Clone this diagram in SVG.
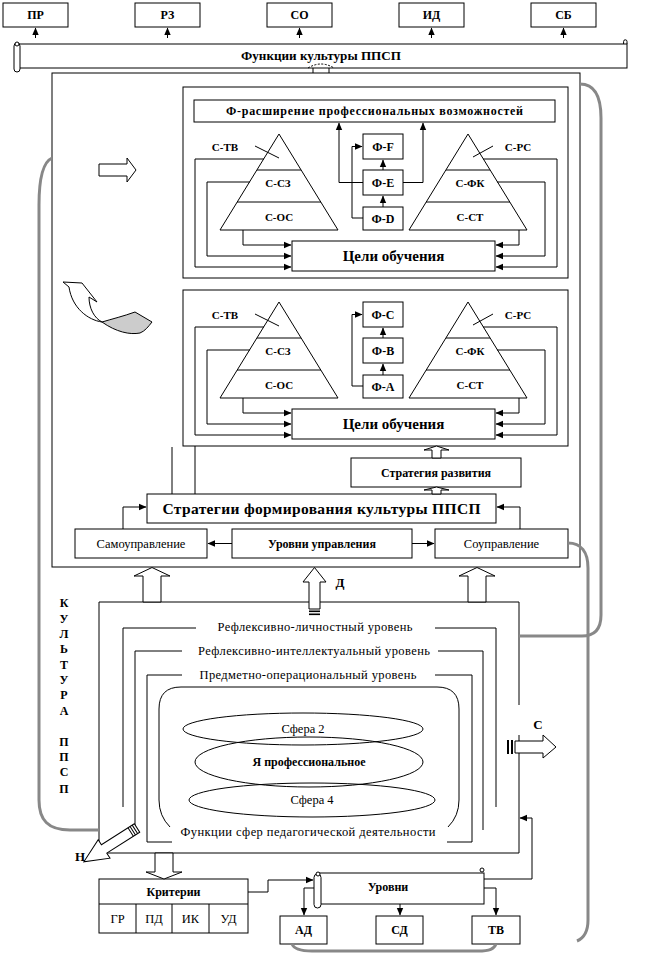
<svg xmlns="http://www.w3.org/2000/svg" width="645" height="953" viewBox="0 0 645 953">
<defs>
<marker id="ah" markerWidth="8" markerHeight="8" refX="7" refY="4" orient="auto" markerUnits="userSpaceOnUse"><path d="M0,0.8 L7.5,4 L0,7.2 z" fill="#000"/></marker>
</defs>
<style>
.b{fill:#fff;stroke:#000;stroke-width:1}
.l{fill:none;stroke:#000;stroke-width:1}
.a{fill:none;stroke:#000;stroke-width:1;marker-end:url(#ah)}
.g{fill:none;stroke:#888;stroke-width:3}
text{font-family:"Liberation Serif","Times New Roman",serif;fill:#000;text-anchor:middle;dominant-baseline:central}
.tb{font-weight:bold;font-size:12px}
.tr{font-size:12.5px}
.ts{font-weight:bold;font-size:11px}
.tl{font-weight:bold;font-size:15px}
</style>
<rect x="0" y="0" width="645" height="953" fill="#fff"/>

<g id="top-boxes">
<g id="n-pr"><rect class="b" x="3" y="3" width="65" height="24"/><text class="tb" x="35.5" y="15">ПР</text></g>
<g id="n-rz"><rect class="b" x="135" y="3" width="65" height="24"/><text class="tb" x="167.5" y="15">РЗ</text></g>
<g id="n-so"><rect class="b" x="267" y="3" width="65" height="24"/><text class="tb" x="299.5" y="15">СО</text></g>
<g id="n-id"><rect class="b" x="399" y="3" width="65" height="24"/><text class="tb" x="431.5" y="15">ИД</text></g>
<g id="n-sb"><rect class="b" x="531" y="3" width="65" height="24"/><text class="tb" x="563.5" y="15">СБ</text></g>
</g>

<g id="scroll-functions">
<rect class="b" x="18" y="44" width="609" height="24"/>
<path class="l" d="M627,44 V41.5 a1.7,1.7 0 0 0 -3.4,0 V44"/>
<rect class="b" x="14" y="43" width="6" height="29" rx="3"/>
<circle class="b" cx="17" cy="44" r="2"/>
<text class="tb" x="321" y="56" textLength="160" lengthAdjust="spacingAndGlyphs">Функции культуры ППСП</text>
</g>

<g id="main-box">
<rect class="l" x="52" y="73" width="528" height="494"/>
</g>

<g id="bridge">
<path class="l" d="M313,68 V73 M329,68 V73"/>
<path class="l" d="M308,68 Q321,60 334,68" stroke-dasharray="2,1.5"/>
</g>

<g id="side-arrows">
<polygon class="b" points="99,164 127,164 127,158 136,170 127,182 127,176 99,176"/>
<path class="b" d="M63,282 L82,283 L97,302 L89,297 C89,308 94,318 102,322 C88,320 72,308 69,287 Z"/>
<path d="M102,322 C112,319 124,316 135,312 L152,322 C148,327 145,331 140,333 C130,335 116,332 102,322 Z" fill="#ccc" stroke="#000" stroke-width="1"/>
</g>

<g id="upper-group">
<rect class="l" x="183" y="87" width="385" height="191"/>
<g id="n-f-ext"><rect class="b" x="194" y="100" width="361" height="22"/><text class="tb" x="374.5" y="111" textLength="297" lengthAdjust="spacing">Ф-расширение профессиональных возможностей</text></g>
<g id="n-tri-left-u">
<path class="l" d="M279,134 L338,230 L220,230 Z M257,170 H301 M237,202 H321 M255,146 L279,158"/>
<text class="ts" x="225" y="147">С-ТВ</text><text class="ts" x="278" y="183">С-СЗ</text><text class="ts" x="279" y="217">С-ОС</text>
</g>
<g id="n-tri-right-u">
<path class="l" d="M468,134 L527,230 L409,230 Z M446,170 H490 M426,202 H510 M493,146 L473,157"/>
<text class="ts" x="518" y="147">С-РС</text><text class="ts" x="470" y="183">С-ФК</text><text class="ts" x="470" y="217">С-СТ</text>
</g>
<g id="n-ff"><rect class="b" x="363" y="134" width="40" height="25"/><text class="tb" x="383" y="146.5">Ф-F</text></g>
<g id="n-fe"><rect class="b" x="363" y="170" width="40" height="25"/><text class="tb" x="383" y="182.5">Ф-E</text></g>
<g id="n-fd"><rect class="b" x="363" y="207" width="40" height="23"/><text class="tb" x="383" y="218.5">Ф-D</text></g>
<g id="n-goals-u"><rect class="b" x="292" y="241" width="203" height="30"/><text class="tl" x="393.5" y="256">Цели обучения</text></g>
</g>

<g id="lower-group">
<rect class="l" x="183" y="290" width="385" height="156"/>
<g id="n-tri-left-l">
<path class="l" d="M279,302 L338,398 L220,398 Z M257,338 H301 M237,370 H321 M255,314 L279,326"/>
<text class="ts" x="225" y="315">С-ТВ</text><text class="ts" x="278" y="351">С-СЗ</text><text class="ts" x="279" y="385">С-ОС</text>
</g>
<g id="n-tri-right-l">
<path class="l" d="M468,302 L527,398 L409,398 Z M446,338 H490 M426,370 H510 M493,314 L473,325"/>
<text class="ts" x="518" y="315">С-РС</text><text class="ts" x="470" y="351">С-ФК</text><text class="ts" x="470" y="385">С-СТ</text>
</g>
<g id="n-fc"><rect class="b" x="363" y="302" width="40" height="25"/><text class="tb" x="383" y="314.5">Ф-С</text></g>
<g id="n-fb"><rect class="b" x="363" y="338" width="40" height="25"/><text class="tb" x="383" y="350.5">Ф-В</text></g>
<g id="n-fa"><rect class="b" x="363" y="375" width="40" height="23"/><text class="tb" x="383" y="386.5">Ф-А</text></g>
<g id="n-goals-l"><rect class="b" x="292" y="409" width="203" height="30"/><text class="tl" x="393.5" y="424">Цели обучения</text></g>
</g>

<g id="n-strat-dev"><rect class="b" x="351" y="458" width="170" height="29"/><text class="tb" x="436" y="472.5">Стратегия развития</text></g>
<g id="n-strat"><rect class="b" x="147" y="494" width="349" height="29"/><text class="tl" x="321.5" y="508.5" textLength="318" lengthAdjust="spacing" style="font-size:15.5px">Стратегии формирования культуры ППСП</text></g>
<g id="n-self"><rect class="b" x="75" y="529" width="132" height="29"/><text class="tr" x="141" y="543.5">Самоуправление</text></g>
<g id="n-levels-mgmt"><rect class="b" x="232" y="529" width="180" height="29"/><text class="tb" x="322" y="543.5">Уровни управления</text></g>
<g id="n-co"><rect class="b" x="435" y="529" width="133" height="29"/><text class="tr" x="501.5" y="543.5">Соуправление</text></g>

<g id="bottom-box">
<path class="l" d="M519,705 V602 H99 V853 H519 V735"/>
<path class="l" d="M196,628 H123 V807 M435,628 H496 V807"/>
<path class="l" d="M182,651 H135 V826 M438,651 H483 V830"/>
<path class="l" d="M182,675 H147 V842 H172 M435,675 H472 V842 H447"/>
<path class="l" d="M170,827 Q159,816 159,800 V709 Q159,687 181,687 H437 Q459,687 459,709 V800 Q459,816 448,827"/>
<text class="tr" x="315" y="627" textLength="195" lengthAdjust="spacing">Рефлексивно-личностный уровень</text>
<text class="tr" x="314" y="651" textLength="232" lengthAdjust="spacing">Рефлексивно-интеллектуальный уровень</text>
<text class="tr" x="308" y="675" textLength="217" lengthAdjust="spacing">Предметно-операциональный уровень</text>
<text class="tr" x="308" y="832" textLength="255" lengthAdjust="spacing">Функции сфер педагогической деятельности</text>
</g>
<g id="n-sphere2"><ellipse class="l" cx="303" cy="729" rx="120" ry="16"/><text class="tr" x="303" y="729">Сфера 2</text></g>
<g id="n-self-prof"><ellipse class="l" cx="309" cy="762" rx="114" ry="25"/><text class="tb" x="309" y="762">Я профессиональное</text></g>
<g id="n-sphere4"><ellipse class="l" cx="312" cy="800" rx="123" ry="17"/><text class="tr" x="312" y="800">Сфера 4</text></g>

<g id="n-criteria">
<rect class="b" x="99" y="879" width="149" height="54"/>
<path class="l" d="M99,904 H248 M136,904 V933 M172,904 V933 M209,904 V933"/>
<text class="tb" x="173.5" y="892">Критерии</text>
<text class="tr" x="117.5" y="918.5">ГР</text><text class="tr" x="154" y="918.5">ПД</text><text class="tr" x="190.5" y="918.5">ИК</text><text class="tr" x="228.5" y="918.5">УД</text>
</g>
<g id="n-levels">
<rect class="b" x="318" y="873" width="166" height="31"/>
<circle class="b" cx="482" cy="870" r="2"/>
<rect class="b" x="314" y="874" width="7" height="34" rx="3.5"/>
<circle class="b" cx="318" cy="874" r="2"/>
<text class="tb" x="388" y="887">Уровни</text>
</g>
<g id="n-ad"><rect class="b" x="280" y="916" width="47" height="28"/><text class="tb" x="303.5" y="930">АД</text></g>
<g id="n-sd"><rect class="b" x="376" y="916" width="47" height="28"/><text class="tb" x="399.5" y="930">СД</text></g>
<g id="n-tv"><rect class="b" x="472" y="916" width="48" height="28"/><text class="tb" x="496" y="930">ТВ</text></g>

<g id="n-culture-label">
<text class="tb" x="64" y="603">К</text><text class="tb" x="64" y="619">У</text><text class="tb" x="64" y="634">Л</text><text class="tb" x="64" y="649">Ь</text><text class="tb" x="64" y="665">Т</text><text class="tb" x="64" y="680">У</text><text class="tb" x="64" y="695">Р</text><text class="tb" x="64" y="711">А</text>
<text class="tb" x="64" y="742">П</text><text class="tb" x="64" y="757">П</text><text class="tb" x="64" y="772">С</text><text class="tb" x="64" y="789">П</text>
</g>

<g id="connectors">
<path class="a" d="M35.5,38 V28"/><path class="a" d="M167.5,38 V28"/><path class="a" d="M299.5,38 V28"/><path class="a" d="M431.5,38 V28"/><path class="a" d="M563.5,38 V28"/>
<path class="a" d="M383,207 V196"/><path class="a" d="M383,170 V160"/>
<path class="a" d="M363,182.5 H339 V123"/><path class="a" d="M403,182.5 H423 V123"/>
<path class="a" d="M363,218 H352 V146.5 H362"/>
<path class="a" d="M243,230 V245 H291"/><path class="a" d="M250,182 H207 V256 H291"/><path class="a" d="M264,159 H195 V267 H291"/>
<path class="a" d="M519,230 V245 H496"/><path class="a" d="M497,182 H545 V256 H496"/><path class="a" d="M483,159 H557 V267 H496"/>
<path class="a" d="M383,375 V364"/><path class="a" d="M383,338 V328"/>
<path class="a" d="M363,386 H352 V314.5 H362"/>
<path class="a" d="M243,398 V413 H291"/><path class="a" d="M250,350 H207 V424 H291"/><path class="a" d="M264,327 H195 V435 H291"/>
<path class="a" d="M519,398 V413 H496"/><path class="a" d="M497,350 H545 V424 H496"/><path class="a" d="M483,327 H557 V435 H496"/>
<path class="l" d="M172,447 V494 M195,446 V494"/>
<polygon class="b" points="432,458 432,450 424,450 436.5,446 449,450 441,450 441,458"/>
<polygon class="b" points="432,494 432,490 424,490 436.5,487 449,490 441,490 441,494"/>
<path class="a" d="M232,543.5 H208"/><path class="a" d="M412,543.5 H434"/>
<path class="a" d="M123,529 V507 H146"/><path class="a" d="M520,529 V507 H497"/>
<polygon class="b" points="143,602 143,576 134,576 152,567.5 170,576 161,576 161,602"/>
<polygon class="b" points="468,602 468,576 459,576 477,567.5 495,576 486,576 486,602"/>
<polygon class="b" points="309,609 309,582 303,582 314.5,567.5 326,582 320,582 320,609"/>
<rect x="309" y="610.5" width="11" height="1.6" fill="#000"/><rect x="309" y="613.5" width="11" height="1.6" fill="#000"/>
<text class="tb" x="340" y="582" style="font-size:13px">Д</text>
<polygon class="b" points="515,741 543,741 543,735 556,747 543,758 543,753 515,753"/>
<rect x="507" y="740" width="2" height="14" fill="#000"/><rect x="511" y="740" width="2" height="14" fill="#000"/>
<text class="tb" x="538" y="724" style="font-size:13px">С</text>
<g transform="translate(137,828) rotate(147.5)">
<polygon class="b" points="0,-5 39,-5 39,-11 63,0 39,11 39,5 0,5"/>
<path class="l" d="M2.5,-5 V5 M5,-5 V5 M7.5,-5 V5"/>
</g>
<text class="tb" x="80" y="856" style="font-size:13px">Н</text>
<polygon class="b" points="155,853 155,872 146,872 164,879 182,872 173,872 173,853"/>
<path class="a" d="M248,892 H268 V880 H313"/>
<path class="a" d="M314,888 H304 V915"/>
<path class="a" d="M400,904 V915"/>
<path class="a" d="M484,888 H496 V915"/>
<path class="a" d="M484,879 H532 V818 H520"/>
<path class="g" d="M52,158 C43,162 39,180 39,205 V800 C39,820 48,830 70,830 H99"/>
<path class="g" d="M580,84 C594,84 601,96 601,118 V615 C601,630 594,636 582,636 H519"/>
<path class="g" d="M568,543 C581,543 588,552 588,568 V920 C588,932 584,938 577,941"/>
<path class="g" d="M292,944 C294,949 300,951 312,951 H478 C490,951 494,949 496,944"/>
</g>
</svg>
